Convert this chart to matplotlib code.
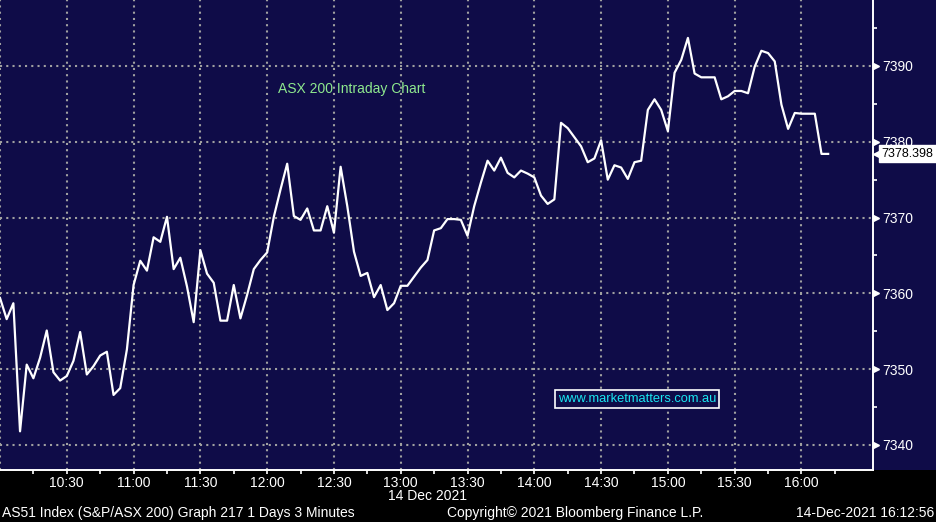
import numpy as np
import matplotlib
matplotlib.use("Agg")
from matplotlib import pyplot as plt
from matplotlib.patches import Rectangle
from matplotlib.ticker import FixedLocator, MultipleLocator

plt.rcParams['font.family'] = ['Liberation Sans', 'DejaVu Sans']

# AS51 intraday, 3 minute bars from 10:00
prices = [
    7359.4, 7356.6, 7358.7, 7341.8, 7350.6, 7348.8, 7351.5, 7355.1, 7349.6, 7348.5,
    7349.1, 7351.1, 7354.9, 7349.3, 7350.4, 7351.8, 7352.3, 7346.6, 7347.5, 7352.6,
    7361.1, 7364.3, 7363.0, 7367.4, 7366.8, 7370.1, 7363.2, 7364.7, 7360.9, 7356.2,
    7365.7, 7362.6, 7361.4, 7356.4, 7356.4, 7361.1, 7356.7, 7359.8, 7363.2, 7364.4,
    7365.4, 7370.1, 7373.7, 7377.1, 7370.2, 7369.7, 7371.2, 7368.3, 7368.3, 7371.5,
    7368.0, 7376.7, 7371.5, 7365.5, 7362.3, 7362.7, 7359.5, 7361.1, 7357.8, 7358.7,
    7361.0, 7361.0, 7362.2, 7363.4, 7364.4, 7368.3, 7368.6, 7369.8, 7369.8, 7369.7,
    7367.6, 7371.5, 7374.6, 7377.5, 7376.2, 7377.9, 7375.9, 7375.3, 7376.2, 7375.8,
    7375.3, 7372.9, 7371.8, 7372.4, 7382.5, 7381.8, 7380.6, 7379.4, 7377.3, 7377.8,
    7380.2, 7375.0, 7376.9, 7376.6, 7375.1, 7377.3, 7377.5, 7384.2, 7385.6, 7384.2,
    7381.4, 7389.1, 7390.8, 7393.7, 7389.0, 7388.5, 7388.5, 7388.5, 7385.6, 7386.0,
    7386.7, 7386.7, 7386.4, 7389.9, 7392.0, 7391.7, 7390.6, 7384.9, 7381.7, 7383.8,
    7383.7, 7383.7, 7383.7, 7378.4, 7378.398,
]
bar_minutes = 3
last_price = 7378.398

time_ticks = [30, 60, 90, 120, 150, 180, 210, 240, 270, 300, 330, 360]
time_labels = ["10:30", "11:00", "11:30", "12:00", "12:30", "13:00",
               "13:30", "14:00", "14:30", "15:00", "15:30", "16:00"]
price_ticks = [7340, 7350, 7360, 7370, 7380, 7390]

navy = '#0f0c48'
W, H = 936, 522

fig = plt.figure(figsize=(W / 100, H / 100), dpi=100)
fig.patch.set_facecolor('black')
fig.patches.append(Rectangle((0, 52 / H), 1, 470 / H, transform=fig.transFigure,
                             facecolor=navy, edgecolor='none', zorder=-10))

ax = fig.add_axes([0, 52 / H, 872.7 / W, 470 / H])
ax.set_facecolor(navy)

t = np.arange(len(prices)) * bar_minutes
ax.plot(t, prices, color='white', lw=1.6, zorder=3)

ax.set_xlim(0, 392)
ax.set_ylim(7336.7, 7398.7)

# dotted grid
for x in [0] + time_ticks:
    ax.axvline(x, color='#a0a0a0', lw=1.5, ls=(0, (1, 2)), zorder=1)
for y in price_ticks:
    ax.axhline(y, color='#a0a0a0', lw=1.5, ls=(0, (1, 2)), zorder=1)

for s in ['left', 'top']:
    ax.spines[s].set_visible(False)
for s in ['right', 'bottom']:
    ax.spines[s].set_color('white')
    ax.spines[s].set_linewidth(1.4)

ax.xaxis.set_major_locator(FixedLocator(time_ticks))
ax.set_xticklabels(time_labels)
ax.xaxis.set_minor_locator(FixedLocator([15 + 30 * k for k in range(13)]))
ax.tick_params(axis='x', which='both', colors='white', length=3, width=1.2,
               labelsize=10, pad=1.5)

ax.yaxis.tick_right()
ax.yaxis.set_major_locator(FixedLocator(price_ticks))
ax.yaxis.set_minor_locator(MultipleLocator(5))
ax.tick_params(axis='y', which='major', colors='white', length=0, labelsize=10, pad=7)
ax.tick_params(axis='y', which='minor', colors='white', length=3, width=1.2)
ax.plot([1.004] * len(price_ticks), price_ticks, ls='none', marker='>', ms=4.5,
        color='white', transform=ax.get_yaxis_transform(), clip_on=False, zorder=5)

# last price tag
ax.annotate(f"{last_price:.3f}", xy=(1.0, last_price), xycoords=ax.get_yaxis_transform(),
            xytext=(6.5, 0), textcoords='offset points', ha='left', va='center',
            fontsize=9, color='black', zorder=6, annotation_clip=False,
            bbox=dict(boxstyle='square,pad=0.2', fc='white', ec='white'))
ax.plot([1.006], [last_price], marker='<', ms=7, color='white', ls='none',
        transform=ax.get_yaxis_transform(), clip_on=False, zorder=6)

ax.text(352 / 872.7, (470 - 89) / 470, "ASX 200 Intraday Chart", color='#8ee88e',
        fontsize=10, ha='center', va='center', zorder=4, transform=ax.transAxes)
ax.text(637 / 872.7, (470 - 399) / 470, "www.marketmatters.com.au", color='#19e6f0',
        fontsize=9.3, ha='center', va='center', zorder=4, transform=ax.transAxes,
        bbox=dict(boxstyle='square,pad=0.2', fc=navy, ec='white', lw=1.2))

fig.text(388 / W, 1 - 496 / H, "14 Dec 2021", color='white', fontsize=10,
         ha='left', va='center')
fig.text(2 / W, 1 - 513 / H, "AS51 Index (S&P/ASX 200) Graph 217 1 Days 3 Minutes",
         color='white', fontsize=10, ha='left', va='center')
fig.text(447 / W, 1 - 513 / H, "Copyright\u00a9 2021 Bloomberg Finance L.P.",
         color='white', fontsize=10, ha='left', va='center')
fig.text(934 / W, 1 - 513 / H, "14-Dec-2021 16:12:56", color='white', fontsize=10,
         ha='right', va='center')

fig.savefig("out.png", dpi=100, facecolor=fig.get_facecolor())
